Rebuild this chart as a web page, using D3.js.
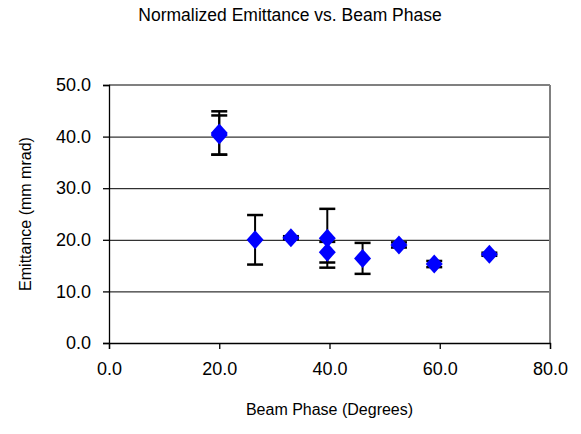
<!DOCTYPE html>
<html>
<head>
<meta charset="utf-8">
<script src="https://cdn.jsdelivr.net/npm/d3@7"></script>
<style>
body { margin: 0; background: #fff; }
text { font-family: "Liberation Sans", Arial, sans-serif; fill: #000; }
</style>
</head>
<body>
<svg id="vis" width="581" height="434"></svg>
<script>
// beam phase (degrees), emittance (mm mrad), error half-width
var phase = [20.0, 20.0, 26.5, 33.0, 39.6, 39.6, 46.0, 52.6, 59.0, 69.0];
var emit = [40.7, 40.3, 20.0, 20.4, 20.3, 17.6, 16.4, 19.0, 15.3, 17.2];
var err = [4.2, 3.8, 4.8, 0.3, 5.7, 2.0, 3.0, 0.5, 0.6, 0.3];
var xTicks = [0, 20, 40, 60, 80];
var yTicks = [0, 10, 20, 30, 40, 50];

var svg = d3.select("#vis"),
	margin = {top: 85, right: 31, bottom: 91, left: 109},
	width = 581 - margin.left - margin.right,
	height = 434 - margin.top - margin.bottom;

var data = phase.map(function(p, i) { return {x: p, y: emit[i], e: err[i]}; });

var x = d3.scaleLinear().domain([0, 80]).range([margin.left, margin.left + width]);
var y = d3.scaleLinear().domain([0, 50]).range([margin.top + height, margin.top]);

// gridlines
svg.append("g")
	.selectAll("line")
	.data(yTicks.slice(1, -1))
	.enter().append("line")
	.attr("x1", x(0)).attr("x2", x(80))
	.attr("y1", function(d) { return y(d) + 0.5; })
	.attr("y2", function(d) { return y(d) + 0.5; })
	.attr("stroke", "#000").attr("stroke-width", 1);

// plot border top / right
svg.append("line").attr("x1", x(0)).attr("x2", x(80)).attr("y1", y(50)).attr("y2", y(50))
	.attr("stroke", "#808080").attr("stroke-width", 2);
svg.append("line").attr("x1", x(80)).attr("x2", x(80)).attr("y1", y(50)).attr("y2", y(0))
	.attr("stroke", "#808080").attr("stroke-width", 2);

var xAxis = d3.axisBottom(x).tickValues(xTicks).tickFormat(d3.format(".1f")).tickSizeOuter(0).tickSize(6).tickPadding(13);
var yAxis = d3.axisLeft(y).tickValues(yTicks).tickFormat(d3.format(".1f")).tickSizeOuter(0).tickSize(6).tickPadding(12);

var gx = svg.append("g").attr("transform", "translate(0," + y(0) + ")").call(xAxis);
var gy = svg.append("g").attr("transform", "translate(" + x(0) + ",0)").call(yAxis);
[gx, gy].forEach(function(g) {
	g.selectAll("path, line").attr("stroke", "#000").attr("stroke-width", 1.3);
	g.selectAll("text").style("font-size", "18px").style("font-family", "Liberation Sans, Arial, sans-serif");
});

// error bars
var eb = svg.append("g");
eb.selectAll("line.stem").data(data).enter().append("line")
	.attr("x1", function(d) { return x(d.x); }).attr("x2", function(d) { return x(d.x); })
	.attr("y1", function(d) { return y(d.y + d.e); }).attr("y2", function(d) { return y(d.y - d.e); })
	.attr("stroke", "#000").attr("stroke-width", 2);
[1, -1].forEach(function(s) {
	eb.selectAll("line.cap" + s).data(data).enter().append("line")
		.attr("x1", function(d) { return x(d.x) - 8; }).attr("x2", function(d) { return x(d.x) + 8; })
		.attr("y1", function(d) { return y(d.y + s * d.e); }).attr("y2", function(d) { return y(d.y + s * d.e); })
		.attr("stroke", "#000").attr("stroke-width", 2.5);
});

// diamonds
svg.append("g").selectAll("path").data(data).enter().append("path")
	.attr("d", "M0,-9.5L8.5,0L0,9.5L-8.5,0Z")
	.attr("transform", function(d) { return "translate(" + x(d.x) + "," + y(d.y) + ")"; })
	.attr("fill", "#0000ff");

// titles
svg.append("text").attr("x", 290).attr("y", 21).attr("text-anchor", "middle")
	.style("font-size", "17.5px").text("Normalized Emittance vs. Beam Phase");
svg.append("text").attr("x", x(40)).attr("y", 415).attr("text-anchor", "middle")
	.style("font-size", "16px").text("Beam Phase (Degrees)");
svg.append("text").attr("transform", "translate(31," + y(25) + ") rotate(-90)").attr("text-anchor", "middle")
	.style("font-size", "16px").text("Emittance (mm mrad)");
</script>
</body>
</html>
